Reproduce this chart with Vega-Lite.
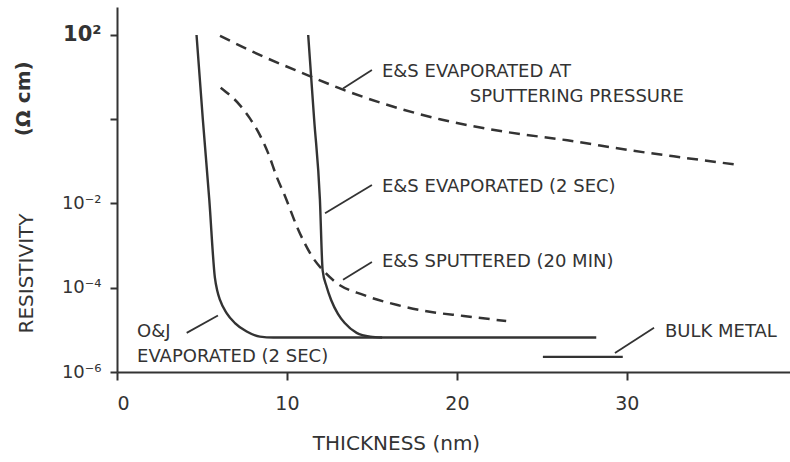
{
  "$schema": "https://vega.github.io/schema/vega-lite/v6.json",
  "autosize": "none",
  "width": 673,
  "height": 365,
  "padding": {"left": 117, "top": 7, "right": 0, "bottom": 90},
  "background": "white",
  "config": {"view": {"stroke": null}, "font": "DejaVu Sans"},
  "datasets": {
    "curves": [
      {"series": "oj", "x": 4.68, "y": 100},
      {"series": "oj", "x": 5.05, "y": 1},
      {"series": "oj", "x": 5.43, "y": 0.0123},
      {"series": "oj", "x": 5.76, "y": 0.000174},
      {"series": "oj", "x": 5.9, "y": 0.000085},
      {"series": "oj", "x": 6.06, "y": 0.0000513},
      {"series": "oj", "x": 6.45, "y": 0.0000251},
      {"series": "oj", "x": 6.94, "y": 0.0000145},
      {"series": "oj", "x": 7.63, "y": 0.00000912},
      {"series": "oj", "x": 8.41, "y": 0.00000692},
      {"series": "oj", "x": 9.2, "y": 0.0000066},
      {"series": "oj", "x": 28.2, "y": 0.0000066},
      {"series": "es_evap", "x": 11.25, "y": 100},
      {"series": "es_evap", "x": 11.6, "y": 1},
      {"series": "es_evap", "x": 11.94, "y": 0.0123},
      {"series": "es_evap", "x": 12.1, "y": 0.00026},
      {"series": "es_evap", "x": 12.33, "y": 0.000107},
      {"series": "es_evap", "x": 12.6, "y": 0.0000513},
      {"series": "es_evap", "x": 13.0, "y": 0.000024},
      {"series": "es_evap", "x": 13.4, "y": 0.0000145},
      {"series": "es_evap", "x": 14.1, "y": 0.0000085},
      {"series": "es_evap", "x": 14.9, "y": 0.0000069},
      {"series": "es_evap", "x": 15.6, "y": 0.0000066},
      {"series": "bulk", "x": 25.06, "y": 0.00000229},
      {"series": "bulk", "x": 29.76, "y": 0.00000229},
      {"series": "es_sput", "x": 6.1, "y": 5.62},
      {"series": "es_sput", "x": 7.24, "y": 2.14},
      {"series": "es_sput", "x": 7.82, "y": 1.05},
      {"series": "es_sput", "x": 8.4, "y": 0.427},
      {"series": "es_sput", "x": 8.9, "y": 0.155},
      {"series": "es_sput", "x": 9.4, "y": 0.0427},
      {"series": "es_sput", "x": 9.9, "y": 0.0145},
      {"series": "es_sput", "x": 10.6, "y": 0.00275},
      {"series": "es_sput", "x": 11.5, "y": 0.000537},
      {"series": "es_sput", "x": 12.2, "y": 0.00024},
      {"series": "es_sput", "x": 12.9, "y": 0.000132},
      {"series": "es_sput", "x": 14.5, "y": 0.0000676},
      {"series": "es_sput", "x": 16.5, "y": 0.0000389},
      {"series": "es_sput", "x": 18.4, "y": 0.0000269},
      {"series": "es_sput", "x": 20.4, "y": 0.0000214},
      {"series": "es_sput", "x": 22.9, "y": 0.0000162},
      {"series": "es_press", "x": 6.06, "y": 95.5},
      {"series": "es_press", "x": 8.6, "y": 30.9},
      {"series": "es_press", "x": 11.2, "y": 11.2},
      {"series": "es_press", "x": 13.0, "y": 5.62},
      {"series": "es_press", "x": 15.6, "y": 2.4},
      {"series": "es_press", "x": 19.0, "y": 1.0},
      {"series": "es_press", "x": 22.9, "y": 0.5},
      {"series": "es_press", "x": 26.5, "y": 0.316},
      {"series": "es_press", "x": 30.4, "y": 0.178},
      {"series": "es_press", "x": 33.5, "y": 0.12},
      {"series": "es_press", "x": 36.5, "y": 0.083}
    ],
    "leaders": [
      {"x": 13.3, "y": 5.37, "x2": 15.0, "y2": 14.8},
      {"x": 12.24, "y": 0.00589, "x2": 15.0, "y2": 0.0275},
      {"x": 13.3, "y": 0.000155, "x2": 15.0, "y2": 0.000407},
      {"x": 4.1, "y": 0.0000085, "x2": 5.94, "y2": 0.0000219},
      {"x": 29.3, "y": 0.00000282, "x2": 31.6, "y2": 0.0000112}
    ],
    "labels": [
      {"x": 15.59, "y": 13.4, "text": "E&S EVAPORATED AT"},
      {"x": 20.76, "y": 3.4, "text": "SPUTTERING PRESSURE"},
      {"x": 15.59, "y": 0.0248, "text": "E&S EVAPORATED (2 SEC)"},
      {"x": 15.59, "y": 0.00041, "text": "E&S SPUTTERED (20 MIN)"},
      {"x": 1.18, "y": 0.0000089, "text": "O&J"},
      {"x": 1.18, "y": 0.00000227, "text": "EVAPORATED (2 SEC)"},
      {"x": 32.24, "y": 0.0000089, "text": "BULK METAL"}
    ],
    "unit": [
      {"x": -5.12, "y": 3.05, "text": "(Ω cm)"}
    ]
  },
  "layer": [
    {
      "data": {"name": "curves"},
      "transform": [{"filter": "datum.series == 'oj' || datum.series == 'es_evap' || datum.series == 'bulk'"}],
      "mark": {"type": "line", "color": "#333", "strokeWidth": 2.4, "interpolate": "monotone"},
      "encoding": {
        "x": {
          "field": "x", "type": "quantitative",
          "scale": {"domain": [0, 39.6], "nice": false, "zero": false},
          "axis": {
            "values": [0, 10, 20, 30],
            "grid": false,
            "domainColor": "#333", "domainWidth": 2,
            "tickColor": "#333", "tickWidth": 2, "tickSize": 8,
            "labelFontSize": 19, "labelColor": "#333", "labelPadding": 14,
            "labelFont": "DejaVu Sans",
            "title": "THICKNESS (nm)",
            "titleFont": "DejaVu Sans", "titleFontSize": 20, "titleFontWeight": "normal",
            "titleColor": "#333",
            "titleX": 279, "titleY": 77, "titleAlign": "center", "titleBaseline": "alphabetic"
          }
        },
        "y": {
          "field": "y", "type": "quantitative",
          "scale": {"type": "log", "domain": [0.000001, 462], "nice": false},
          "axis": {
            "values": [0.000001, 0.0001, 0.01, 1, 100],
            "grid": false,
            "domainColor": "#333", "domainWidth": 2,
            "tickColor": "#333", "tickWidth": 2, "tickSize": 7,
            "labelExpr": "datum.value > 50 ? '10²' : datum.value > 0.5 ? '' : datum.value > 0.005 ? '10⁻²' : datum.value > 0.00005 ? '10⁻⁴' : '10⁻⁶'",
            "labelFontSize": {"condition": {"test": "datum.value > 50", "value": 21}, "value": 18},
            "labelFontWeight": {"condition": {"test": "datum.value > 50", "value": "bold"}, "value": "normal"},
            "labelColor": "#333", "labelPadding": 9, "labelFont": "DejaVu Sans",
            "title": "RESISTIVITY",
            "titleFont": "DejaVu Sans", "titleFontSize": 20, "titleFontWeight": "normal",
            "titleColor": "#333",
            "titleX": -85, "titleY": 266, "titleAngle": -90, "titleAlign": "center", "titleBaseline": "alphabetic"
          }
        },
        "detail": {"field": "series"}
      }
    },
    {
      "data": {"name": "curves"},
      "transform": [{"filter": "datum.series == 'es_sput' || datum.series == 'es_press'"}],
      "mark": {"type": "line", "color": "#333", "strokeWidth": 2.5, "strokeDash": [11, 7], "interpolate": "monotone"},
      "encoding": {
        "x": {"field": "x", "type": "quantitative"},
        "y": {"field": "y", "type": "quantitative"},
        "detail": {"field": "series"}
      }
    },
    {
      "data": {"name": "leaders"},
      "mark": {"type": "rule", "color": "#333", "strokeWidth": 1.8},
      "encoding": {
        "x": {"field": "x", "type": "quantitative"},
        "y": {"field": "y", "type": "quantitative"},
        "x2": {"field": "x2"},
        "y2": {"field": "y2"}
      }
    },
    {
      "data": {"name": "labels"},
      "mark": {"type": "text", "align": "left", "baseline": "middle", "font": "DejaVu Sans", "fontSize": 18, "color": "#333"},
      "encoding": {
        "x": {"field": "x", "type": "quantitative"},
        "y": {"field": "y", "type": "quantitative"},
        "text": {"field": "text"}
      }
    },
    {
      "data": {"name": "unit"},
      "mark": {"type": "text", "align": "center", "baseline": "alphabetic", "angle": 270, "font": "DejaVu Sans", "fontSize": 20, "fontWeight": "bold", "color": "#333"},
      "encoding": {
        "x": {"field": "x", "type": "quantitative"},
        "y": {"field": "y", "type": "quantitative"},
        "text": {"field": "text"}
      }
    }
  ]
}
